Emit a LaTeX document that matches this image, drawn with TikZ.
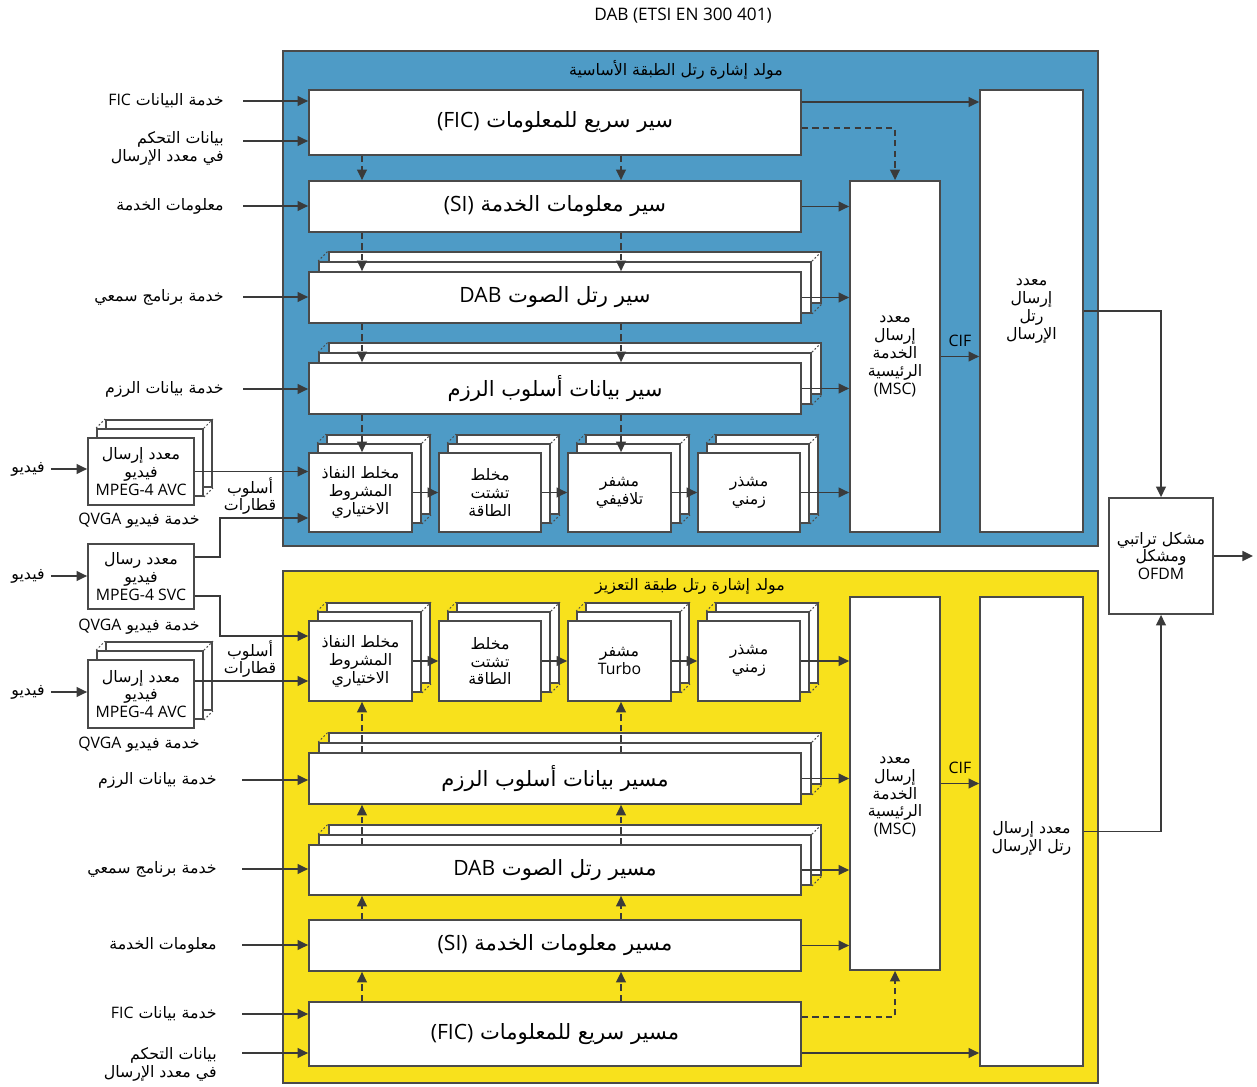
\documentclass[tikz,border=0pt]{standalone}
\usepackage{fontspec}
\setmainfont{Open Sans}
\newfontfamily\arabicfont[Script=Arabic]{DejaVu Sans}
\TeXXeTstate=1
\usetikzlibrary{arrows.meta}

\definecolor{layerblue}{HTML}{4E9BC6}
\definecolor{layeryellow}{HTML}{F8E11C}
\definecolor{linec}{HTML}{3A3A3A}
\definecolor{edgec}{HTML}{4A4A4A}

\newcommand\smalltxt{\fontsize{9}{10.2}\selectfont}
\newcommand\bigtxt{\fontsize{12}{14}\selectfont}
\newcommand\ar[1]{{\arabicfont\beginR#1\endR}}
\newcommand\lt[1]{\beginL{\rmfamily#1}\endL}

\tikzset{
  box/.style={draw=edgec, fill=white, line width=1pt, inner sep=1pt, align=center, font=\smalltxt},
  bigbox/.style={box, font=\bigtxt},
  sz/.style 2 args={minimum width=#1*0.02cm, minimum height=#2*0.02cm},
  lbl/.style={inner sep=0pt, align=right, font=\smalltxt},
  arr/.style={draw=linec, line width=0.9pt, -{Triangle[length=6pt,width=5.6pt]}},
  dasharr/.style={arr, dash pattern=on 3.5pt off 2.5pt},
  dotline/.style={draw=edgec, line width=0.6pt, dash pattern=on 1pt off 1.2pt},
  panel/.style={draw=edgec, line width=1.2pt},
}

% stack of three boxes: name, x, y, width, height, offset, text
\newcommand\stackbox[7]{%
  \node[box, sz={#4}{#5}] (#1b) at (#2+2*#6, #3-2*#6) {};
  \node[box, sz={#4}{#5}] (#1m) at (#2+#6, #3-#6) {};
  \draw[dotline] (#1m.north west) -- (#1b.north west)
    (#1m.north east) -- (#1b.north east) (#1m.south east) -- (#1b.south east);
  \node[box, sz={#4}{#5}] (#1) at (#2,#3) {#7};
}

\begin{document}
\begin{tikzpicture}[x=0.02cm, y=-0.02cm]
  \useasboundingbox (0,0) rectangle (1257,1087);

  % Panels
  \draw[panel, fill=layerblue] (283,51) rectangle (1098,546);
  \draw[panel, fill=layeryellow] (283,571) rectangle (1098,1083);
  \node[lbl, font=\fontsize{9.8}{11}\selectfont] (title) at (683,16) {DAB (ETSI EN 300 401)};
  \node[lbl] (baseT) at (676,70) {\ar{مولد إشارة رتل الطبقة الأساسية}};
  \node[lbl] (enhT) at (690,586) {\ar{مولد إشارة رتل طبقة التعزيز}};

  % Base layer blocks
  \node[bigbox, sz={492}{65}] (fic) at (555,122.5) {\ar{سير سريع للمعلومات \lt{(FIC)}}};
  \node[bigbox, sz={492}{51}] (si) at (555,206.5) {\ar{سير معلومات الخدمة \lt{(SI)}}};
  \stackbox{dab}{555}{297.5}{492}{51}{10}{\bigtxt\ar{سير رتل الصوت \lt{DAB}}}
  \stackbox{pkt}{555}{388.5}{492}{51}{10}{\bigtxt\ar{سير بيانات أسلوب الرزم}}
  \stackbox{mixB}{360.5}{492.5}{103}{79}{9}{\ar{مخلط النفاذ}\\\ar{المشروط}\\\ar{الاختياري}}
  \stackbox{edB}{490}{492.5}{102}{79}{9}{\ar{مخلط}\\\ar{تشتت}\\\ar{الطاقة}}
  \stackbox{cvB}{619.5}{492.5}{103}{79}{9}{\ar{مشفر}\\\ar{تلافيفي}}
  \stackbox{tiB}{749}{492.5}{102}{79}{9}{\ar{مشذر}\\\ar{زمني}}
  \node[box, sz={90}{351}] (msc) at (895,356.5) {\ar{معدد}\\\ar{إرسال}\\\ar{الخدمة}\\\ar{الرئيسية}\\(MSC)};
  \node[box, sz={103}{442}] (tfm) at (1031.5,311) {\ar{معدد}\\\ar{إرسال}\\\ar{رتل}\\\ar{الإرسال}};

  % Enhancement layer blocks
  \stackbox{mixY}{360.5}{661}{103}{80}{9}{\ar{مخلط النفاذ}\\\ar{المشروط}\\\ar{الاختياري}}
  \stackbox{edY}{490}{661}{102}{80}{9}{\ar{مخلط}\\\ar{تشتت}\\\ar{الطاقة}}
  \stackbox{tuY}{619.5}{661}{103}{80}{9}{\ar{مشفر}\\Turbo}
  \stackbox{tiY}{749}{661}{102}{80}{9}{\ar{مشذر}\\\ar{زمني}}
  \stackbox{pktY}{555}{778.5}{492}{51}{10}{\bigtxt\ar{مسير بيانات أسلوب الرزم}}
  \stackbox{dabY}{555}{870}{492}{50}{10}{\bigtxt\ar{مسير رتل الصوت \lt{DAB}}}
  \node[bigbox, sz={492}{51}] (siY) at (555,945.5) {\ar{مسير معلومات الخدمة \lt{(SI)}}};
  \node[bigbox, sz={492}{64}] (ficY) at (555,1034) {\ar{مسير سريع للمعلومات \lt{(FIC)}}};
  \node[box, sz={90}{373}] (mscY) at (895,783.5) {};
  \node[lbl, align=center] (mscYt) at (895,797) {\ar{معدد}\\\ar{إرسال}\\\ar{الخدمة}\\\ar{الرئيسية}\\(MSC)};
  \node[box, sz={103}{469}] (tfmY) at (1031.5,831.5) {};
  \node[lbl, align=center] (tfmYt) at (1031.5,838) {\ar{معدد إرسال}\\\ar{رتل الإرسال}};

  % OFDM
  \node[box, sz={104}{116}] (ofdm) at (1161,556) {\ar{مشكل تراتبي}\\\ar{ومشكل}\\OFDM};

  % Video encoders
  \stackbox{encA}{141}{471.5}{106}{67}{9}{\ar{معدد إرسال}\\\ar{فيديو}\\MPEG-4 AVC}
  \node[box, sz={106}{65}] (svc) at (141,576.5) {\ar{معدد رسال}\\\ar{فيديو}\\MPEG-4 SVC};
  \stackbox{encB}{141}{694}{106}{68}{9}{\ar{معدد إرسال}\\\ar{فيديو}\\MPEG-4 AVC}
  \node[lbl] (capA) at (139,521) {\ar{خدمة فيديو \lt{QVGA}}};
  \node[lbl] (capS) at (139,627) {\ar{خدمة فيديو \lt{QVGA}}};
  \node[lbl] (capB) at (139,745) {\ar{خدمة فيديو \lt{QVGA}}};
  \node[lbl] (vidA) at (28,469) {\ar{فيديو}};
  \node[lbl] (vidS) at (28,576) {\ar{فيديو}};
  \node[lbl] (vidB) at (28,692) {\ar{فيديو}};
  \node[lbl, align=center] (strA) at (250,496) {\ar{أسلوب}\\\ar{قطارات}};
  \node[lbl, align=center] (strB) at (250,659) {\ar{أسلوب}\\\ar{قطارات}};

  % Input labels
  \node[lbl, anchor=east] (lficB) at (224,101) {\ar{خدمة البيانات \lt{FIC}}};
  \node[lbl, anchor=east] (lctlB) at (224,148) {\ar{بيانات التحكم}\\\ar{في معدد الإرسال}};
  \node[lbl, anchor=east] (lsiB) at (224,206) {\ar{معلومات الخدمة}};
  \node[lbl, anchor=east] (laudB) at (224,297) {\ar{خدمة برنامج سمعي}};
  \node[lbl, anchor=east] (lpktB) at (224,389) {\ar{خدمة بيانات الرزم}};
  \node[lbl, anchor=east] (lpktY) at (217,780) {\ar{خدمة بيانات الرزم}};
  \node[lbl, anchor=east] (laudY) at (217,869) {\ar{خدمة برنامج سمعي}};
  \node[lbl, anchor=east] (lsiY) at (217,945) {\ar{معلومات الخدمة}};
  \node[lbl, anchor=east] (lficY) at (217,1014) {\ar{خدمة بيانات \lt{FIC}}};
  \node[lbl, anchor=east] (lctlY) at (217,1064) {\ar{بيانات التحكم}\\\ar{في معدد الإرسال}};

  % Input arrows
  \foreach \l/\b in {lficB/fic, lsiB/si, laudB/dab, lpktB/pkt} {
    \draw[arr] (\l.east) ++(19,0) -- (\l.east -| \b.west);
  }
  \foreach \l/\b in {lpktY/pktY, laudY/dabY, lsiY/siY, lficY/ficY} {
    \draw[arr] (\l.east) ++(25,0) -- (\l.east -| \b.west);
  }
  \coordinate (ctlB) at ([yshift=0.14cm]lctlB.east);
  \coordinate (ctlY) at ([yshift=0.22cm]lctlY.east);
  \draw[arr] (ctlB) ++(19,0) -- (ctlB -| fic.west);
  \draw[arr] (ctlY) ++(25,0) -- (ctlY -| ficY.west);

  % Video paths
  \foreach \v/\e in {vidA/encA, vidS/svc, vidB/encB} {
    \draw[arr] (\v.east) ++(6,0) -- (\v.east -| \e.west);
  }
  \draw[arr] (encA.east) -- (encA.east -| mixB.west);
  \draw[arr] ([yshift=0.39cm]svc.east) -- ++(25,0) |- ([yshift=-0.51cm]mixB.west);
  \draw[arr] ([yshift=-0.39cm]svc.east) -- ++(25,0) |- ([yshift=0.5cm]mixY.west);
  \draw[arr] ([yshift=0.26cm]encB.east) -- ([yshift=-0.4cm]mixY.west);

  % Chains
  \foreach \a/\b in {mixB/edB, edB/cvB, cvB/tiB, mixY/edY, edY/tuY, tuY/tiY} {
    \draw[arr] (\a.east) -- (\b.west);
  }
  \foreach \a in {si, dab, pkt, tiB} {
    \draw[arr] (\a.east) -- (\a.east -| msc.west);
  }
  \foreach \a in {tiY, pktY, dabY, siY} {
    \draw[arr] (\a.east) -- (\a.east -| mscY.west);
  }

  % Dashed control paths
  \coordinate (colA) at (362,0);
  \coordinate (colB) at (621,0);
  \foreach \a/\b in {fic/si, si/dab, dab/pkt, pkt/mixB} {
    \draw[dasharr] (\a.south -| colA) -- (\b.north -| colA);
  }
  \foreach \a/\b in {fic/si, si/dab, dab/pkt, pkt/cvB} {
    \draw[dasharr] (\a.south -| colB) -- (\b.north -| colB);
  }
  \foreach \a/\b in {ficY/siY, siY/dabY, dabY/pktY, pktY/mixY} {
    \draw[dasharr] (\a.north -| colA) -- (\b.south -| colA);
  }
  \foreach \a/\b in {ficY/siY, siY/dabY, dabY/pktY, pktY/tuY} {
    \draw[dasharr] (\a.north -| colB) -- (\b.south -| colB);
  }

  % FIC to multiplexers
  \coordinate (ficT) at ([yshift=0.41cm]fic.east);
  \coordinate (ficM) at ([yshift=-0.11cm]fic.east);
  \coordinate (ficYT) at ([yshift=-0.38cm]ficY.east);
  \coordinate (ficYM) at ([yshift=0.34cm]ficY.east);
  \draw[arr] (ficT) -- (ficT -| tfm.west);
  \draw[dasharr] (ficM) -| (msc.north);
  \draw[arr] (ficYT) -- (ficYT -| tfmY.west);
  \draw[dasharr] (ficYM) -| (mscY.south);

  % CIF and output
  \draw[arr] (msc.east) -- (msc.east -| tfm.west) node[lbl, midway, above=5pt] (cifB) {CIF};
  \draw[arr] (mscY.east) -- (mscY.east -| tfmY.west) node[lbl, midway, above=5pt] (cifY) {CIF};
  \draw[arr] (tfm.east) -| (ofdm.north);
  \draw[arr] (tfmY.east) -| (ofdm.south);
  \coordinate (out) at (1253,556);
  \draw[arr] (ofdm.east) -- (out);
\end{tikzpicture}
\end{document}
